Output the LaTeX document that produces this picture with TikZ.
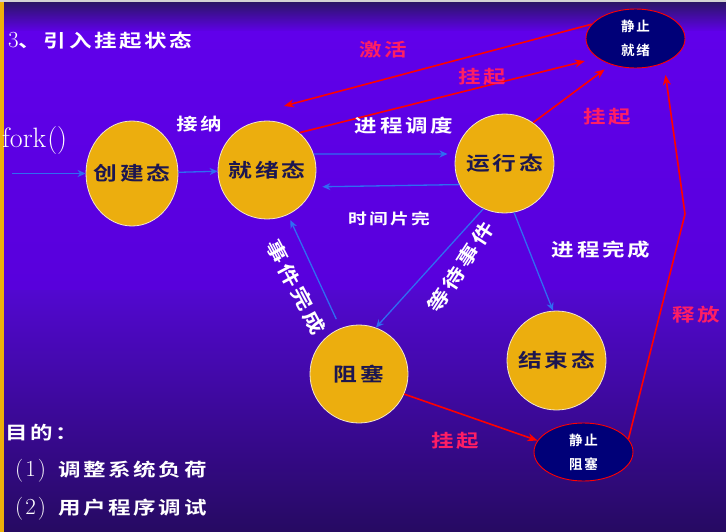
\documentclass[tikz,border=0pt]{standalone}
\usepackage{fontspec}
\usepackage{graphicx}
\usetikzlibrary{shapes.geometric,arrows.meta}

\newfontfamily\cjk{Noto Sans CJK SC}[BoldFont={Noto Sans CJK SC Bold},LetterSpace=12]
% horizontally stretched CJK lettering
\newcommand\widecn[1]{\scalebox{1.25}[1]{#1}}
% state label that does not influence the ellipse size
\newcommand\sttxt[1]{\makebox[0pt]{\widecn{#1}}}

\definecolor{stategold}{HTML}{ECAE0E}
\definecolor{stateline}{HTML}{F2E6CC}
\definecolor{statetext}{HTML}{1C1650}
\definecolor{susnavy}{HTML}{000078}
\definecolor{flowblue}{HTML}{2F6CF2}
\definecolor{labelpink}{HTML}{FF1E64}
\definecolor{bgtop}{HTML}{2B1666}
\definecolor{bgmid}{HTML}{6000EA}
\definecolor{bgmid2}{HTML}{5800DC}
\definecolor{bglow}{HTML}{5208D0}
\definecolor{bgbottom}{HTML}{260A62}
\definecolor{sidebar}{HTML}{EDB00A}

\tikzset{
  state/.style={ellipse, fill=stategold, draw=stateline, line width=0.8,
    inner sep=0pt, text=statetext,
    font=\cjk\bfseries\fontsize{19}{19}\selectfont},
  susstate/.style={ellipse, fill=susnavy, draw=red, line width=0.9,
    inner sep=0pt, text=white, align=center,
    font=\cjk\bfseries\fontsize{13.5}{24}\selectfont},
  lbl/.style={text=white, inner sep=0pt,
    font=\cjk\bfseries\fontsize{18}{18}\selectfont},
  redlbl/.style={text=labelpink, inner sep=0pt,
    font=\cjk\bfseries\fontsize{18}{18}\selectfont},
  flow/.style={draw=flowblue, line width=1.3,
    -{Stealth[length=8pt,width=7pt]}},
  susflow/.style={draw=red, line width=1.6,
    -{Stealth[length=10pt,width=8pt]}}
}

\begin{document}
\begin{tikzpicture}[x=1pt,y=-1pt]
\useasboundingbox (0,0) rectangle (726,532);

% background
\shade[top color=bgtop, bottom color=bgmid] (0,2) rectangle (726,32);
\shade[top color=bgmid, bottom color=bgmid2] (0,32) rectangle (726,290);
\shade[top color=bglow, bottom color=bgbottom] (0,290) rectangle (726,532);
\fill[black!17] (0,0) rectangle (726,2);
\fill[sidebar] (0,2) rectangle (3.5,532);

% states
\node[state, minimum width=92, minimum height=105] (create) at (132,173.5) {\sttxt{创建态}};
\node[state, minimum width=98, minimum height=98] (ready) at (267,170) {\sttxt{就绪态}};
\node[state, minimum width=99, minimum height=99] (run) at (504.5,163.5) {\sttxt{运行态}};
\node[state, minimum width=98, minimum height=98] (block) at (359,374) {\sttxt{阻塞}};
\node[state, minimum width=99, minimum height=99] (end) at (556.5,360.5) {\sttxt{结束态}};
\node[susstate, minimum width=99, minimum height=59] (sready) at (635.5,38.5) {静止\\就绪};
\node[susstate, minimum width=99, minimum height=58] (sblock) at (583.5,452) {静止\\阻塞};

% free ends
\coordinate (forkin) at (12,173.5);
\coordinate (acttip) at (284,106);
\coordinate (relbend) at (685,214);

% ordinary transitions
\draw[flow] (forkin) -- (create.west);
\draw[flow] (create) -- (ready);
\draw[flow, shorten >=8pt] (ready.19) -- (run.169);
\draw[flow, shorten >=9pt] (run.205) -- (ready.-20);
\draw[flow] (run.245) -- (block.70);
\draw[flow, shorten <=10pt, shorten >=6pt] (block.112) -- (ready.-65);
\draw[flow] (run.-79) -- (end.94);

% suspend / activate / release
\draw[susflow] (sready.162) -- (acttip);
\draw[susflow, shorten >=13pt] (ready.49) -- (sready.207);
\draw[susflow, shorten >=8pt] (run.55) -- (sready.227);
\draw[susflow] (block.-24) -- (sblock.166);
\draw[susflow, shorten >=12pt] (sblock.16) -- (relbend) -- (sready.-41);

% labels
\node[lbl, anchor=west] (title) at (8,41) {{\rmfamily\mdseries\fontsize{23}{23}\selectfont 3}\widecn{、引入挂起状态}};
\node[text=white, inner sep=0pt, anchor=west, font=\fontsize{28}{28}\selectfont] (fork) at (2,141) {fork\kern1pt()};
\node[lbl, font=\cjk\bfseries\fontsize{17}{17}\selectfont] (accept) at (199,124) {\widecn{接纳}};
\node[lbl] (dispatch) at (404,126) {\widecn{进程调度}};
\node[lbl, font=\cjk\bfseries\fontsize{15}{15}\selectfont] (timeout) at (389,219) {\widecn{时间片完}};
\node[lbl] (finish) at (601,250) {\widecn{进程完成}};
\node[lbl, rotate=-62, font=\cjk\bfseries\fontsize{19}{19}\selectfont] (evdone) at (296,287) {\widecn{事件完成}};
\node[lbl, rotate=57, font=\cjk\bfseries\fontsize{19}{19}\selectfont] (evwait) at (461,267) {\widecn{等待事件}};

\node[redlbl] (activate) at (383,50) {\widecn{激活}};
\node[redlbl] (susp1) at (482,77) {\widecn{挂起}};
\node[redlbl] (susp2) at (607,117) {\widecn{挂起}};
\node[redlbl] (release) at (696,315) {\widecn{释放}};
\node[redlbl] (susp3) at (455,441) {\widecn{挂起}};

\node[lbl, anchor=west] (goal) at (5,433) {\widecn{目的：}};
\node[lbl, anchor=west] (goal1) at (15,471)
  {{\rmfamily\mdseries\fontsize{23}{23}\selectfont(\kern2pt1\kern2pt)}\hspace{12pt}\widecn{调整系统负荷}};
\node[lbl, anchor=west] (goal2) at (15,509)
  {{\rmfamily\mdseries\fontsize{23}{23}\selectfont(\kern2pt2\kern2pt)}\hspace{12pt}\widecn{用户程序调试}};
\end{tikzpicture}
\end{document}
